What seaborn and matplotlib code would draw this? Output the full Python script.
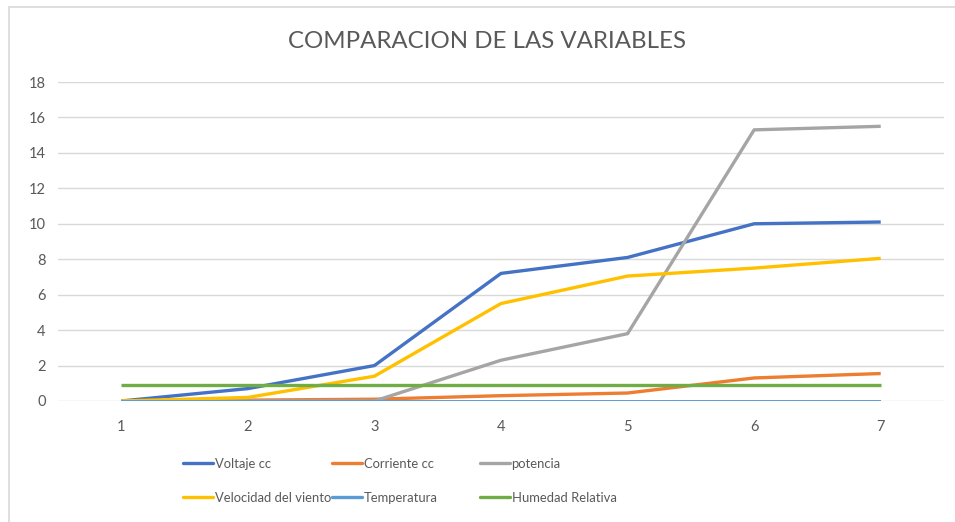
import matplotlib
matplotlib.use("Agg")
import matplotlib.pyplot as plt
from matplotlib.lines import Line2D
import seaborn as sns
import pandas as pd

x_points = [1, 2, 3, 4, 5, 6, 7]
voltaje = [0, 0.7, 2.0, 7.2, 8.1, 10.0, 10.1]
corriente = [0, 0.05, 0.1, 0.3, 0.45, 1.3, 1.55]
potencia = [0, 0, 0, 2.3, 3.8, 15.3, 15.5]
velocidad = [0, 0.2, 1.4, 5.5, 7.05, 7.5, 8.05]
temperatura = [0, 0, 0, 0, 0, 0, 0]
humedad = [0.9, 0.9, 0.9, 0.9, 0.9, 0.9, 0.9]

series_names = ["Voltaje cc", "Corriente cc", "potencia",
                "Velocidad del viento", "Temperatura", "Humedad Relativa"]
series_values = [voltaje, corriente, potencia, velocidad, temperatura, humedad]
colors = ["#4472C4", "#ED7D31", "#A5A5A5", "#FFC000", "#5B9BD5", "#70AD47"]
widths = [2.4, 2.4, 2.4, 2.4, 1.4, 2.4]
y_ticks = [0, 2, 4, 6, 8, 10, 12, 14, 16, 18]

rows = []
for name, vals in zip(series_names, series_values):
    for xv, yv in zip(x_points, vals):
        rows.append({"x": xv, "y": yv, "serie": name})
df = pd.DataFrame(rows)

sns.set_theme(style="white")
plt.rcParams['font.family'] = ['Lato', 'DejaVu Sans']

fig = plt.figure(figsize=(9.55, 5.22), dpi=100)
ax = fig.add_axes([58/955, 1-401/522, (944-58)/955, (401-82)/522])

for name, col, lw in zip(series_names, colors, widths):
    sub = df[df["serie"] == name]
    sns.lineplot(data=sub, x="x", y="y", color=col, linewidth=lw, ax=ax,
                 legend=False, zorder=3, solid_capstyle="butt")

ax.set_xlim(0.5, 7.5)
ax.set_ylim(0, 18)
ax.set_yticks(y_ticks)
ax.set_xticks(x_points)
ax.set_xticklabels([str(v) for v in x_points])
ax.set_xlabel("")
ax.set_ylabel("")
ax.grid(axis="y", color="#D9D9D9", linewidth=1.0, zorder=0)
ax.grid(axis="x", visible=False)
for s in ax.spines.values():
    s.set_visible(False)
ax.tick_params(axis="both", length=0, labelsize=10.5, colors="#595959")
ax.tick_params(axis="y", pad=9)
ax.tick_params(axis="x", pad=14)

fig.text(0.51, 1-42/522, "COMPARACION DE LAS VARIABLES", ha="center", va="center",
         fontsize=17.3, color="#595959")

# legends: three columns placed like the reference
col_x = [183, 332, 480]
for c in range(3):
    handles = []
    for r in range(2):
        i = r*3 + c
        handles.append(Line2D([], [], color=colors[i], linewidth=2.4,
                              label=series_names[i]))
    leg = fig.legend(handles=handles, loc="upper left",
                     bbox_to_anchor=(col_x[c]/955, 1-458/522),
                     frameon=False, handlelength=2.3,
                     prop={"family": ["Lato", "DejaVu Sans"], "size": 9.4},
                     handletextpad=0.12, labelspacing=1.65, borderpad=0,
                     borderaxespad=0)
    for t in leg.get_texts():
        t.set_color("#595959")

# chart border (top and left)
fig.add_artist(Line2D([9/955, 1], [1-7/522, 1-7/522], color="#D9D9D9", linewidth=1.2,
                      transform=fig.transFigure))
fig.add_artist(Line2D([9/955, 9/955], [0, 1-7/522], color="#D9D9D9", linewidth=1.2,
                      transform=fig.transFigure))

fig.savefig("out.png", dpi=100)
